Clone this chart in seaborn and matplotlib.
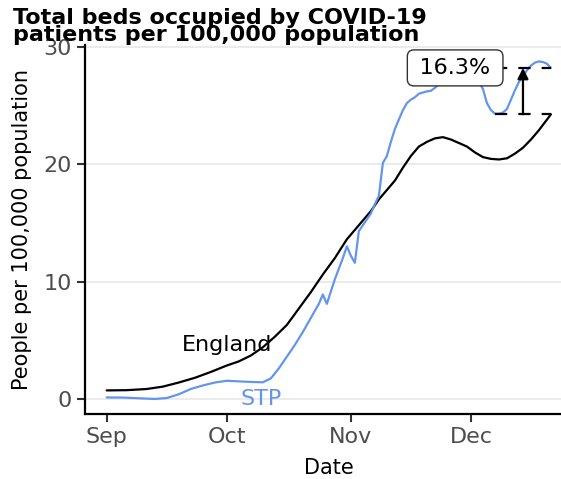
import matplotlib
matplotlib.use("Agg")
import matplotlib.pyplot as plt
import matplotlib.dates as mdates
import numpy as np
import pandas as pd
import seaborn as sns

# Days since 1 September 2020 and occupied beds per 100,000 population
start = pd.Timestamp("2020-09-01")

england_days = [0, 5, 10, 14, 18, 22, 26, 30, 33, 36, 39, 42, 45, 48, 51, 54,
                57, 60, 63, 66, 68, 70, 72, 74, 76, 78, 80, 82, 84, 86, 88, 90,
                92, 94, 96, 98, 100, 102, 104, 106, 108, 110, 111]
england_vals = [0.73, 0.75, 0.85, 1.05, 1.4, 1.8, 2.3, 2.85, 3.2, 3.7, 4.4, 5.3,
                6.3, 7.7, 9.1, 10.6, 12.0, 13.6, 14.8, 16.0, 17.0, 17.8, 18.6,
                19.7, 20.7, 21.5, 21.9, 22.2, 22.3, 22.1, 21.8, 21.5, 21.0, 20.6,
                20.45, 20.4, 20.5, 20.9, 21.4, 22.1, 22.9, 23.8, 24.25]

stp_days = [0, 4, 8, 12, 15, 18, 21, 24, 27, 30, 33, 36, 39, 41, 43, 45, 47, 49,
            51, 53, 54, 55, 57, 59, 60, 61, 62, 63, 64, 66, 67, 68, 69, 70, 71,
            72, 73, 74, 75, 76, 77, 78, 79, 80, 81, 82, 83, 85, 88, 91, 93, 94,
            95, 96, 97, 98, 99, 100, 101, 102, 103, 104, 105, 106, 107, 108,
            109, 110, 111]
stp_vals = [0.13, 0.12, 0.06, 0.0, 0.08, 0.4, 0.85, 1.15, 1.4, 1.55, 1.5, 1.45,
            1.42, 1.75, 2.6, 3.6, 4.6, 5.7, 6.9, 8.1, 8.9, 8.1, 10.2, 12.0, 13.0,
            12.2, 11.6, 14.3, 14.8, 15.8, 16.6, 17.3, 20.1, 20.7, 21.9, 23.0,
            23.8, 24.6, 25.2, 25.5, 25.7, 26.0, 26.1, 26.2, 26.25, 26.5, 26.8,
            27.4, 27.9, 27.6, 27.0, 26.4, 25.2, 24.6, 24.3, 24.3, 24.4, 24.7,
            25.5, 26.3, 27.0, 27.5, 28.0, 28.4, 28.65, 28.75, 28.7, 28.55, 28.2]

month_ticks = ["2020-09-01", "2020-10-01", "2020-11-01", "2020-12-01"]
y_ticks = [0, 10, 20, 30]

STP_COLOR = "#6495ED"

df = pd.concat([
    pd.DataFrame({"date": start + pd.to_timedelta(england_days, unit="D"),
                  "value": england_vals, "area": "England"}),
    pd.DataFrame({"date": start + pd.to_timedelta(stp_days, unit="D"),
                  "value": stp_vals, "area": "STP"}),
], ignore_index=True)

sns.set_theme(style="white")
plt.rcParams["font.family"] = ["DejaVu Sans"]

fig = plt.figure(figsize=(5.61, 4.79), dpi=100)
ax = fig.add_axes([85 / 561, (479 - 414) / 479, (561 - 85) / 561, (414 - 45) / 479])

sns.lineplot(data=df, x="date", y="value", hue="area",
             palette={"England": "black", "STP": STP_COLOR},
             estimator=None, linewidth=1.6, legend=False, ax=ax, zorder=3)

# Axis ranges
day = pd.Timedelta(days=1)
ax.set_xlim(start - 5.42 * day, start + 113.5 * day)
ax.set_ylim(-1.28, 30.15)

ax.set_xticks(pd.to_datetime(month_ticks))
ax.xaxis.set_major_formatter(mdates.DateFormatter("%b"))
ax.set_yticks(y_ticks)

ax.grid(axis="y", color="#EBEBEB", linewidth=1.5, zorder=0)
ax.grid(axis="x", visible=False)
ax.set_axisbelow(True)

for side in ["top", "right"]:
    ax.spines[side].set_visible(False)
for side in ["left", "bottom"]:
    ax.spines[side].set_color("black")
    ax.spines[side].set_linewidth(1.6)

ax.tick_params(axis="both", which="major", direction="out", length=5.5,
               width=1.5, color="#333333", labelsize=16, labelcolor="#4D4D4D",
               bottom=True, left=True)
ax.tick_params(axis="x", pad=4)
ax.tick_params(axis="y", pad=4)

ax.set_xlabel("Date", fontsize=15, color="black", labelpad=6)
ax.xaxis.set_label_coords((328.5 - 85) / (561 - 85), -0.12)
ax.set_ylabel("People per 100,000 population", fontsize=15, color="black", labelpad=8)

# Series labels
ax.text(start + 30 * day, 4.6, "England", fontsize=16, color="black",
        ha="center", va="center", zorder=4)
ax.text(start + 38.6 * day, 0.0, "STP", fontsize=16, color=STP_COLOR,
        ha="center", va="center", zorder=4)

# Gap between the two series on the last day
eng_last = england_vals[-1]
stp_last = stp_vals[-1]
last_day = start + england_days[-1] * day
seg_start = last_day - 14 * day
mid_day = last_day - 7 * day

ax.hlines([stp_last, eng_last], seg_start, last_day, colors="black",
          linewidth=1.6, linestyles=(0, (5.5, 5.0)), zorder=4)
ax.annotate("", xy=(mid_day, stp_last), xytext=(mid_day, eng_last),
            arrowprops=dict(arrowstyle="-|>", color="black", lw=1.6,
                            mutation_scale=16, shrinkA=0, shrinkB=0),
            zorder=5)
pct = (stp_last / eng_last - 1) * 100
ax.text(seg_start, stp_last, f"\u2009{pct:.1f}%\u2009", fontsize=16, color="black",
        ha="right", va="center", zorder=6,
        bbox=dict(boxstyle="round,pad=0.36,rounding_size=0.3", facecolor="white",
                  edgecolor="#333333", linewidth=1.0))

fig.text(13 / 561, 1 - 8 / 479,
         "Total beds occupied by COVID-19\npatients per 100,000 population",
         fontsize=16, fontweight="bold", ha="left", va="top", linespacing=0.84,
         color="black", zorder=10)

fig.savefig("out.png", dpi=100)
